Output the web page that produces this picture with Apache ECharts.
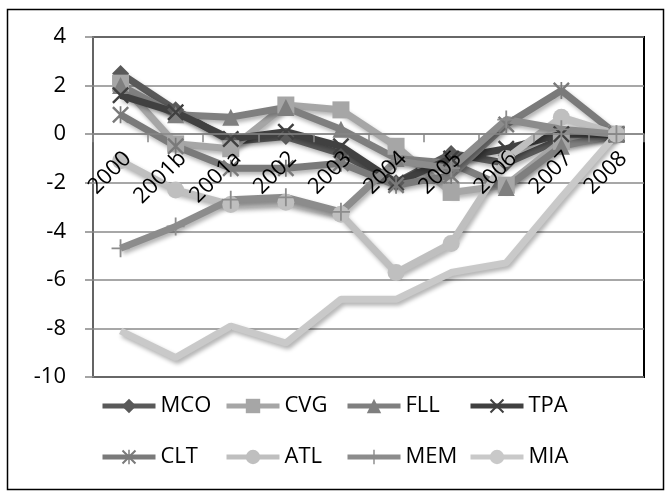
<!DOCTYPE html>
<html>
<head>
<meta charset="utf-8">
<script src="https://cdn.jsdelivr.net/npm/echarts@6/dist/echarts.min.js"></script>
<style>
html,body{margin:0;padding:0;background:#fff;}
#chart{width:667px;height:491px;}
</style>
</head>
<body>
<div id="chart"></div>
<script>
var categories = ['2000','2001b','2001a','2002','2003','2004','2005','2006','2007','2008'];
var seriesNames = ['MCO','CVG','FLL','TPA','CLT','ATL','MEM','MIA'];
var MCO = [2.5, 1.0, -0.3, -0.1, -0.8, -2.0, -0.8, -1.2, -0.2, 0];
var CVG = [2.1, -0.4, -0.6, 1.2, 1.0, -0.5, -2.4, -2.1, -0.3, 0];
var FLL = [2.0, 0.8, 0.7, 1.1, 0.2, -1.0, -1.2, -2.2, -0.5, 0];
var TPA = [1.6, 0.9, -0.2, 0.1, -0.5, -2.0, -1.0, -0.6, 0.0, 0];
var CLT = [0.8, -0.5, -1.4, -1.4, -1.2, -2.1, -1.7, 0.4, 1.8, 0];
var ATL = [-1.1, -2.3, -2.9, -2.8, -3.3, -5.7, -4.5, -1.0, 0.7, 0];
var MEM = [-4.7, -3.8, -2.7, -2.6, -3.2, -1.1, -1.4, 0.6, 0.2, 0];
var MIA = [-8.1, -9.2, -7.9, -8.6, -6.8, -6.8, -5.7, -5.3, -2.6, 0];
var yTicks = {min: -10, max: 4, interval: 2};

var values = [MCO, CVG, FLL, TPA, CLT, ATL, MEM, MIA];
var colors = ['#595959','#a6a6a6','#7f7f7f','#404040','#7a7a7a','#bfbfbf','#8c8c8c','#c9c9c9'];
var xPath = 'path://M2,0 L10,8 L18,0 L20,2 L12,10 L20,18 L18,20 L10,12 L2,20 L0,18 L8,10 L0,2 Z';
var plusPath = 'path://M9,0 H11 V9 H20 V11 H11 V20 H9 V11 H0 V9 H9 Z';
var starPath = 'path://M2,0 L10,8 L18,0 L20,2 L12,10 L20,18 L18,20 L10,12 L2,20 L0,18 L8,10 L0,2 Z M9,0 H11 V20 H9 Z';
var symbols = ['diamond','rect','triangle',xPath,starPath,'circle',plusPath,'none'];
var symSizes = [17,17,17,17,17,17,18,0];
var font = '"Open Sans", "Noto Sans", sans-serif';

var series = seriesNames.map(function(n, i){
  return {
    name: n, type: 'line', data: values[i],
    symbol: symbols[i], symbolSize: symSizes[i], showSymbol: symbols[i] !== 'none',
    itemStyle: {color: colors[i]},
    lineStyle: {color: colors[i], width: 7, shadowColor: 'rgba(0,0,0,0.3)', shadowBlur: 4, shadowOffsetX: 2, shadowOffsetY: 3},
    emphasis: {disabled: true}, animation: false
  };
});

var legendCols = [100, 224, 345, 468];
var legendRows = [395, 446];
var legends = seriesNames.map(function(n, i){
  return {
    data: [n], left: legendCols[i % 4], top: legendRows[Math.floor(i / 4)], padding: 0,
    itemWidth: 53, itemHeight: 18, itemGap: 0,
    textStyle: {fontFamily: font, fontSize: 22, color: '#000'},
    lineStyle: {width: 5}, selectedMode: false
  };
});

var chart = echarts.init(document.getElementById('chart'), null, {renderer: 'canvas'});
chart.setOption({
  backgroundColor: '#fff',
  animation: false,
  graphic: [{type: 'rect', left: 5, top: 7, shape: {width: 656, height: 480}, style: {fill: 'none', stroke: '#000', lineWidth: 1.5}, z: -1}],
  grid: {left: 93, top: 37, right: 23, bottom: 114, show: true, borderColor: '#000', borderWidth: 2, backgroundColor: 'transparent'},
  legend: legends,
  xAxis: {
    type: 'category', data: categories, boundaryGap: true, position: 'bottom', offset: 0, z: 10,
    axisLine: {onZero: false, lineStyle: {color: '#868686', width: 1.5}},
    axisTick: {show: true, length: 8, lineStyle: {color: '#868686', width: 1.5}},
    axisLabel: {rotate: 45, margin: 28, padding: [6, -10, 0, 0], fontFamily: font, fontSize: 22, color: '#000', interval: 0},
    splitLine: {show: false}
  },
  yAxis: {
    type: 'value', min: yTicks.min, max: yTicks.max, interval: yTicks.interval,
    axisLine: {show: true, lineStyle: {color: '#868686', width: 1.5}},
    axisTick: {show: true, length: 8, lineStyle: {color: '#868686', width: 1.5}},
    axisLabel: {margin: 27, fontFamily: font, fontSize: 22, color: '#000'},
    splitLine: {show: true, lineStyle: {color: '#8a8a8a', width: 1.5}}
  },
  series: series
});
// place the category axis on the zero line of the value axis
var zeroPx = chart.convertToPixel({yAxisIndex: 0}, 0);
var bottomPx = chart.convertToPixel({yAxisIndex: 0}, yTicks.min);
chart.setOption({xAxis: {offset: -(bottomPx - zeroPx)}});
</script>
</body>
</html>
